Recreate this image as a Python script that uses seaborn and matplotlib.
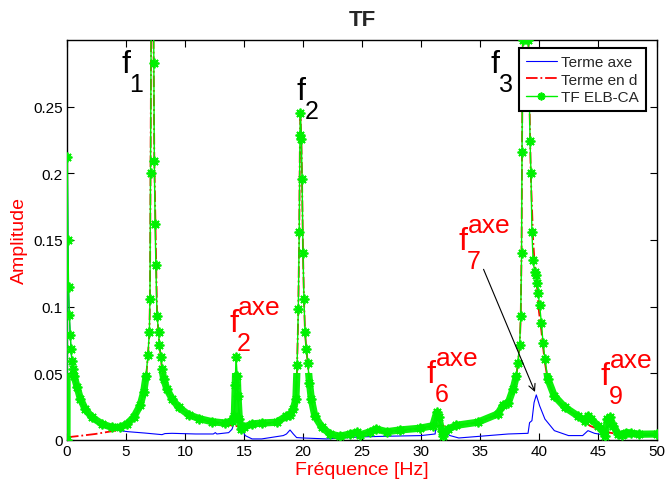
import matplotlib
matplotlib.use("Agg")
import matplotlib.pyplot as plt
from matplotlib.patches import Rectangle
from matplotlib.transforms import offset_copy
import seaborn as sns
import pandas as pd

# --- data -------------------------------------------------------------
freq_tf = [0.0, 0.03, 0.08, 0.13, 0.2, 0.28, 0.35, 0.42, 0.5, 0.6, 0.85, 1.13, 1.55, 2.12,
           2.97, 3.8, 4.5, 5.08, 5.65, 6.2, 6.5, 6.7, 6.86, 6.98, 7.03, 7.08, 7.2, 7.32, 7.36,
           7.4, 7.47, 7.53, 7.63, 7.77, 7.82, 7.97, 8.05, 8.19, 8.47, 8.9, 9.46, 10.3, 11.2,
           12.3, 13.4, 14.0, 14.18, 14.26, 14.32, 14.43, 14.49, 14.6, 14.77, 14.97, 15.68,
           16.5, 17.77, 18.6, 18.9, 19.18, 19.4, 19.5, 19.6, 19.68, 19.74, 19.78, 19.86, 19.92,
           20.0, 20.08, 20.17, 20.28, 20.4, 20.55, 20.7, 21.0, 21.6, 22.3, 23.1, 24.0, 24.55,
           24.8, 25.7, 26.2, 27.1, 28.2, 29.9, 31.0, 31.33, 31.5, 31.75, 31.9, 32.3, 33.0,
           34.8, 36.5, 36.95, 37.4, 37.8, 38.08, 38.2, 38.36, 38.45, 38.52, 38.56, 38.62,
           38.85, 39.1, 39.24, 39.32, 39.4, 39.5, 39.62, 39.75, 39.85, 39.93, 40.05, 40.2,
           40.34, 40.5, 40.76, 41.3, 42.2, 43.3, 43.87, 44.15, 44.4, 45.0, 45.4, 45.6, 45.8,
           46.0, 46.3, 46.7, 47.0, 47.4, 47.8, 48.5, 50.0]
amp_tf = [0.0, 0.212, 0.150, 0.115, 0.094, 0.079, 0.068, 0.059, 0.053, 0.048, 0.040, 0.031,
          0.023, 0.017, 0.012, 0.0095, 0.0095, 0.012, 0.017, 0.026, 0.036, 0.048, 0.064, 0.081,
          0.106, 0.20, 0.45, 0.35, 0.283, 0.209, 0.162, 0.131, 0.093, 0.081, 0.071, 0.062,
          0.053, 0.046, 0.038, 0.031, 0.0245, 0.019, 0.016, 0.0137, 0.0127, 0.0145, 0.018,
          0.041, 0.062, 0.048, 0.033, 0.016, 0.008, 0.0095, 0.012, 0.0127, 0.0133, 0.018,
          0.019, 0.023, 0.031, 0.056, 0.098, 0.156, 0.229, 0.245, 0.226, 0.196, 0.14, 0.106,
          0.081, 0.068, 0.058, 0.043, 0.031, 0.018, 0.0095, 0.0045, 0.0028, 0.0045, 0.0058,
          0.0037, 0.0062, 0.0082, 0.0062, 0.0075, 0.0088, 0.0107, 0.0207, 0.017, 0.007,
          0.0033, 0.0082, 0.011, 0.0133, 0.0195, 0.026, 0.028, 0.038, 0.048, 0.058, 0.071,
          0.093, 0.14, 0.216, 0.30, 0.45, 0.30, 0.2245, 0.20, 0.156, 0.135, 0.126, 0.124,
          0.118, 0.11, 0.101, 0.088, 0.073, 0.0605, 0.0455, 0.033, 0.0245, 0.018, 0.0145,
          0.018, 0.0157, 0.0107, 0.007, 0.0033, 0.0157, 0.017, 0.0107, 0.0045, 0.004, 0.0055,
          0.005, 0.0043, 0.0045]

freq_d = [0.0, 1.0, 2.4, 4.1, 5.08, 5.65, 6.2, 6.5, 6.7, 6.86, 6.98, 7.03, 7.08, 7.2, 7.33,
          7.4, 7.5, 7.63, 7.8, 8.05, 8.47, 8.9, 9.46, 10.3, 11.2, 12.3, 13.4, 14.2, 14.6, 15.68,
          16.5, 17.77, 18.6, 19.18, 19.4, 19.5, 19.6, 19.68, 19.74, 19.78, 19.86, 19.92, 20.0,
          20.08, 20.17, 20.28, 20.4, 20.55, 20.7, 21.0, 21.6, 22.3, 23.1, 24.0, 25.7, 27.1,
          29.9, 31.0, 31.5, 32.0, 33.0, 34.8, 36.5, 37.4, 37.8, 38.08, 38.2, 38.36, 38.45,
          38.52, 38.56, 38.62, 38.85, 39.1, 39.3, 39.5, 39.7, 39.85, 40.0, 40.2, 40.34, 40.5,
          40.76, 41.3, 42.2, 43.3, 44.3, 45.3, 45.7, 46.3, 47.0, 48.5, 50.0]
amp_d = [0.002, 0.003, 0.0045, 0.007, 0.0105, 0.016, 0.025, 0.035, 0.047, 0.063, 0.08, 0.106,
         0.20, 0.45, 0.30, 0.21, 0.16, 0.095, 0.075, 0.053, 0.038, 0.031, 0.0245, 0.019, 0.0158,
         0.0133, 0.0118, 0.0105, 0.0102, 0.0112, 0.012, 0.013, 0.0155, 0.021, 0.030, 0.055,
         0.097, 0.155, 0.228, 0.244, 0.225, 0.195, 0.14, 0.106, 0.081, 0.068, 0.058, 0.043,
         0.031, 0.018, 0.0093, 0.0043, 0.0026, 0.0042, 0.0058, 0.006, 0.0085, 0.0102, 0.0108,
         0.0105, 0.0108, 0.013, 0.019, 0.027, 0.037, 0.047, 0.057, 0.070, 0.092, 0.14, 0.215,
         0.30, 0.45, 0.30, 0.20, 0.15, 0.123, 0.113, 0.096, 0.082, 0.070, 0.058, 0.044, 0.032,
         0.024, 0.0175, 0.0107, 0.007, 0.006, 0.005, 0.0042, 0.004, 0.0042]

freq_axe = [0.0, 0.03, 0.08, 0.13, 0.2, 0.28, 0.35, 0.42, 0.5, 0.6, 0.85, 1.13, 1.55, 2.12,
            2.97, 3.5, 4.1, 5.2, 6.6, 8.05, 8.3, 8.9, 10.9, 12.4, 12.57, 12.7, 13.7, 13.98,
            14.1, 14.25, 14.38, 14.55, 14.69, 14.83, 15.1, 15.68, 16.5, 18.33, 18.6, 18.9,
            19.18, 19.46, 20.0, 22.0, 24.8, 27.1, 30.0, 31.2, 31.33, 31.5, 31.75, 32.0, 32.46,
            33.2, 37.4, 39.07, 39.2, 39.4, 39.58, 39.77, 40.05, 40.5, 41.3, 42.5, 43.7, 44.15,
            44.7, 45.55, 45.85, 46.07, 46.4, 47.3, 50.0]
amp_axe = [0.0, 0.21, 0.148, 0.113, 0.092, 0.077, 0.066, 0.057, 0.051, 0.046, 0.038, 0.029,
           0.021, 0.015, 0.0105, 0.0088, 0.0074, 0.0062, 0.0052, 0.004, 0.0048, 0.005, 0.0045,
           0.0045, 0.0055, 0.0045, 0.0055, 0.008, 0.011, 0.030, 0.045, 0.023, 0.016, 0.008,
           0.0033, 0.0008, 0.0008, 0.0033, 0.0045, 0.0075, 0.0045, 0.0018, 0.0015, 0.0008,
           0.0023, 0.0028, 0.0033, 0.0045, 0.0195, 0.016, 0.0107, 0.0058, 0.0033, 0.0015,
           0.0045, 0.005, 0.013, 0.0145, 0.028, 0.0338, 0.0257, 0.0157, 0.007, 0.0033, 0.0033,
           0.007, 0.005, 0.0037, 0.0107, 0.012, 0.0058, 0.0033, 0.0033]

series_labels = ["Terme axe", "Terme en d", "TF ELB-CA"]
x_ticks = [0, 5, 10, 15, 20, 25, 30, 35, 40, 45, 50]
y_ticks = [0, 0.05, 0.1, 0.15, 0.2, 0.25]
y_tick_labels = ["0", "0.05", "0.1", "0.15", "0.2", "0.25"]

# mode labels: (frequency, amplitude, subscript, superscript)
mode_marks = [(4.58, 0.276, "1", ""), (19.49, 0.2558, "2", ""), (35.93, 0.276, "3", "")]
axe_marks = [(13.73, 0.0818, "2", "axe"), (30.5, 0.0435, "6", "axe"),
             (33.2, 0.1433, "7", "axe"), (45.25, 0.042, "9", "axe")]

# --- style ------------------------------------------------------------
sns.set_style("ticks")
plt.rcParams["font.family"] = ["Liberation Sans", "DejaVu Sans"]

GREEN = "#00f000"
RED = "#ff0000"
BLUE = "#0000ff"
ASTERISK = (8, 2, 0)

fig = plt.figure(figsize=(6.66, 4.81), dpi=100)
ax = fig.add_axes([0.1006, 0.0832, 0.8859, 0.8316])

df_tf = pd.DataFrame({"f": freq_tf, "a": amp_tf})
df_d = pd.DataFrame({"f": freq_d, "a": amp_d})
df_axe = pd.DataFrame({"f": freq_axe, "a": amp_axe})

sns.lineplot(data=df_d, x="f", y="a", ax=ax, estimator=None, sort=False, color=RED,
             linestyle="-.", linewidth=1.3, label=series_labels[1], zorder=2)
sns.lineplot(data=df_axe, x="f", y="a", ax=ax, estimator=None, sort=False, color=BLUE,
             linewidth=0.8, label=series_labels[0], zorder=3)
# the closely packed markers of the ELB-CA spectrum form a wide band in the flat parts
band = ax.plot(df_tf["f"], df_tf["a"], color=GREEN, linewidth=5.2, alpha=0.95, zorder=4,
               solid_joinstyle="round", label="_nolegend_")[0]
band.set_clip_path(Rectangle((0, 0), 50, 0.05, transform=ax.transData))
sns.lineplot(data=df_tf, x="f", y="a", ax=ax, estimator=None, sort=False, color=GREEN,
             linewidth=1.0, marker=ASTERISK, markersize=7, markeredgewidth=1.3,
             markeredgecolor=GREEN, markerfacecolor=GREEN, label=series_labels[2], zorder=5)

ax.set_xlim(0, 50)
ax.set_ylim(0, 0.3)
ax.set_xticks(x_ticks)
ax.set_yticks(y_ticks)
ax.set_yticklabels(y_tick_labels)
ax.tick_params(direction="in", top=True, right=True, length=5, width=0.8,
               labelsize=11, colors="black", pad=3)
for sp in ax.spines.values():
    sp.set_visible(True)
    sp.set_linewidth(1.0)
    sp.set_color("black")

ax.set_xlabel("Fréquence [Hz]", color=RED, fontsize=14, labelpad=2)
ax.set_ylabel("Amplitude", color=RED, fontsize=14, labelpad=4)
ax.set_title("TF", fontsize=16, fontweight="bold", pad=11)


def mode_label(x, y, sub, sup, color):
    ax.text(x, y, "f", fontsize=23, color=color, ha="left", va="baseline", zorder=6,
            clip_on=False)
    ax.text(x, y, sub, fontsize=18, color=color, ha="left", va="baseline", zorder=6,
            clip_on=False, transform=offset_copy(ax.transData, fig, x=8, y=-19, units="dots"))
    if sup:
        ax.text(x, y, sup, fontsize=19, color=color, ha="left", va="baseline", zorder=6,
                clip_on=False,
                transform=offset_copy(ax.transData, fig, x=9, y=17, units="dots"))


for x, y, sub, sup in mode_marks:
    mode_label(x, y, sub, sup, "black")
for x, y, sub, sup in axe_marks:
    mode_label(x, y, sub, sup, RED)

ax.annotate("", xy=(39.66, 0.036), xytext=(35.3, 0.128),
            arrowprops=dict(arrowstyle="->", color="black", lw=0.8, mutation_scale=12,
                            shrinkA=0, shrinkB=0), zorder=6)

handles, labels = ax.get_legend_handles_labels()
order = [labels.index(l) for l in series_labels]
leg = ax.legend([handles[i] for i in order], [labels[i] for i in order],
                loc="upper right", bbox_to_anchor=(0.981, 0.98), fontsize=11,
                frameon=True, fancybox=False, framealpha=1, edgecolor="black",
                handlelength=2.0, handletextpad=0.3, labelspacing=0.25, borderpad=0.45,
                borderaxespad=0.0, markerscale=0.8)
leg.get_frame().set_linewidth(1.5)
leg.set_zorder(10)

fig.savefig("out.png", dpi=100)
